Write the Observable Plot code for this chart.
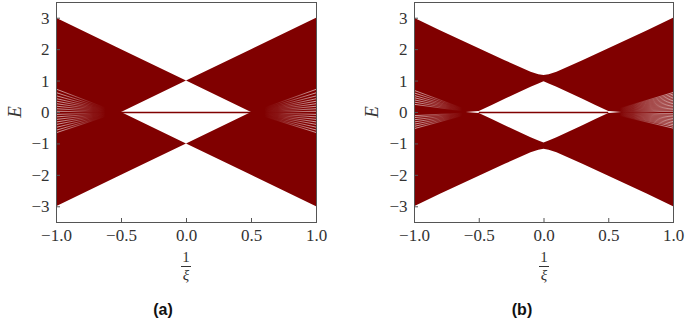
<!DOCTYPE html>
<html><head><meta charset="utf-8">
<script src="https://cdn.jsdelivr.net/npm/d3@7"></script>
<script src="https://cdn.jsdelivr.net/npm/@observablehq/plot@0.6"></script>
<style>
body{margin:0;background:#fff;width:685px;height:322px;position:relative;overflow:hidden}
.panel{position:absolute;top:0}
.panel svg{overflow:visible}
.panel svg text{font-family:"Liberation Serif","DejaVu Serif",serif !important;font-size:17px !important}
.ylab{position:absolute;font-family:"Liberation Serif",serif;font-style:italic;font-size:19px;color:#333;transform:translate(-50%,-50%) rotate(-90deg)}
.frac{position:absolute;font-family:"Liberation Serif",serif;font-size:15px;color:#333;transform:translateX(-50%);text-align:center;line-height:13px}
.frac .bar{width:10px;height:0;border-top:1px solid #333;margin:2px auto 2px auto}
.frac i{font-style:italic}
.cap{position:absolute;font-family:"Liberation Sans",Arial,sans-serif;font-weight:bold;font-size:16px;color:#111;transform:translate(-50%,-50%)}
</style></head>
<body>
<div id="pa" class="panel" style="left:0px"></div>
<div id="pb" class="panel" style="left:345px"></div>
<div class="ylab" style="left:15px;top:112px">E</div>
<div class="ylab" style="left:372px;top:112px">E</div>
<div class="frac" style="left:186px;top:251px">1<div class="bar"></div><i>ξ</i></div>
<div class="frac" style="left:544px;top:251px">1<div class="bar"></div><i>ξ</i></div>
<div class="cap" style="left:163px;top:310px">(a)</div>
<div class="cap" style="left:522px;top:310px">(b)</div>
<script>
// ---------- data ----------
const xTicks = [-1, -0.5, 0, 0.5, 1];
const yTicks = [-3, -2, -1, 0, 1, 2, 3];

// Panel (a): band envelopes
const aX          = [-1, -0.5, 0, 0.5, 1];
const aUpperOuter = [3, 2, 1, 2, 3];
const aUpperInner = [0, 0, 1, 0, 0];
const aLowerInner = [0, 0, -1, 0, 0];
const aLowerOuter = [-3, -2, -1, -2, -3];
const aZeroX      = [-0.5, 0.5];
// Panel (a): white gaps between levels near E = 0 (E at the edge, tip x)
const aLeftGapE   = [0.74, 0.63, 0.53, 0.44, 0.36, 0.28, 0.2, 0.12, 0.04, -0.06, -0.14, -0.22, -0.3, -0.38, -0.47, -0.56, -0.64];
const aLeftTipX   = -0.53;
const aRightGapE  = [0.74, 0.63, 0.53, 0.44, 0.36, 0.28, 0.2, 0.12, 0.04, -0.06, -0.14, -0.22, -0.3, -0.38, -0.47, -0.56, -0.64];
const aRightTipX  = 0.5;

// Panel (b): band envelopes
const bX          = [-1, -0.8, -0.6, -0.5, -0.4, -0.3, -0.2, -0.1, -0.04, 0, 0.04, 0.1, 0.2, 0.3, 0.4, 0.5, 0.6, 0.8, 1];
const bUpperOuter = [3, 2.6, 2.22, 2.03, 1.84, 1.65, 1.46, 1.28, 1.2, 1.18, 1.2, 1.28, 1.46, 1.65, 1.84, 2.03, 2.22, 2.6, 3];
const bUpperInner = [0, 0, 0, 0.03, 0.22, 0.42, 0.61, 0.8, 0.91, 0.98, 0.91, 0.8, 0.61, 0.42, 0.22, 0.03, 0, 0, 0];
const bLowerInner = [0, 0, 0, -0.03, -0.22, -0.42, -0.61, -0.8, -0.91, -0.97, -0.91, -0.8, -0.61, -0.42, -0.22, -0.03, 0, 0, 0];
const bLowerOuter = [-3, -2.6, -2.22, -2.03, -1.84, -1.65, -1.46, -1.28, -1.2, -1.17, -1.2, -1.28, -1.46, -1.65, -1.84, -2.03, -2.22, -2.6, -3];
const bZeroX      = [-0.5, 0.5];
// Panel (b): white gaps near E = 0
const bLeftGapE   = [0.7, 0.62, 0.54, 0.47, 0.4, 0.33, 0.26, -0.1, -0.16, -0.23, -0.3, -0.37, -0.44, -0.51];
const bLeftTipX   = -0.54;
const bRightGapE  = [0.64, 0.59, 0.54, 0.49, 0.44, 0.39, 0.34, 0.29, 0.24, 0.19, 0.14, 0.09, 0.04, -0.04, -0.09, -0.14, -0.19, -0.24, -0.29, -0.34, -0.39, -0.44, -0.5];
const bRightTipX  = 0.48;

// ---------- drawing ----------
const RED = "#800000";
const fmtX = d3.format(".1f");
let gid = 0;

function band(xs, outer, inner) {
  return xs.map((x, i) => ({x, y1: inner[i], y2: outer[i]}));
}
function gaps(edgeEs, tipX, edgeX) {
  return edgeEs.map(e => ({x1: edgeX, y1: e, x2: tipX, y2: 0}));
}

function panel(opts) {
  const id = "p" + (gid++);
  const upper = band(opts.xs, opts.uo, opts.ui);
  const lower = band(opts.xs, opts.lo, opts.li);
  const gl = gaps(opts.lgE, opts.lTip, -1);
  const gr = gaps(opts.rgE, opts.rTip, 1);
  const frameH = 220;
  const innerW = opts.width - opts.ml - opts.mr;
  // gradient defs: white gaps fade out towards the tip
  const defs = (index, scales) => {
    const sx = scales.x;
    const ns = "http://www.w3.org/2000/svg";
    const d = document.createElementNS(ns, "defs");
    const mk = (gidName, x1, x2) => {
      const g = document.createElementNS(ns, "linearGradient");
      g.setAttribute("id", gidName);
      g.setAttribute("gradientUnits", "userSpaceOnUse");
      g.setAttribute("x1", x1); g.setAttribute("x2", x2);
      g.setAttribute("y1", 0); g.setAttribute("y2", 0);
      [[0, 0.8], [0.3, 0.45], [0.6, 0.1], [0.8, 0]].forEach(([o, a]) => {
        const s = document.createElementNS(ns, "stop");
        s.setAttribute("offset", o);
        s.setAttribute("stop-color", "white");
        s.setAttribute("stop-opacity", a);
        g.append(s);
      });
      d.append(g);
    };
    mk(id + "L", sx(-1), sx(opts.lTip));
    mk(id + "R", sx(1), sx(opts.rTip));
    return d;
  };
  return Plot.plot({
    width: opts.width, height: 250,
    marginLeft: opts.ml, marginRight: opts.mr, marginTop: 2, marginBottom: 28,
    style: {fontFamily: "'Liberation Serif', serif", fontSize: "17px", color: "#333", background: "white", overflow: "visible"},
    x: {domain: [-1, 1], label: null},
    y: {domain: [-3.5, 3.5], label: null},
    marks: [
      defs,
      Plot.areaY(upper, {x: "x", y1: "y1", y2: "y2", fill: RED}),
      Plot.areaY(lower, {x: "x", y1: "y1", y2: "y2", fill: RED}),
      Plot.link(gl, {x1: "x1", y1: "y1", x2: "x2", y2: "y2", stroke: `url(#${id}L)`, strokeWidth: 0.8}),
      Plot.link(gr, {x1: "x1", y1: "y1", x2: "x2", y2: "y2", stroke: `url(#${id}R)`, strokeWidth: 0.8}),
      Plot.ruleY([0], {x1: opts.zero[0], x2: opts.zero[1], stroke: RED, strokeWidth: 1.4}),
      Plot.frame({stroke: "#555", strokeWidth: 1}),
      Plot.tickX(xTicks.slice(1, -1), {x: d => d, stroke: "#555", insetTop: frameH - 4}),
      Plot.tickY(yTicks, {y: d => d, stroke: "#555", insetRight: innerW - 4}),
      Plot.axisX(xTicks, {tickSize: 0, tickPadding: 6, tickFormat: fmtX, fill: "#333"}),
      Plot.axisY(yTicks, {tickSize: 0, tickPadding: 7, fill: "#333"})
    ]
  });
}

document.getElementById("pa").append(panel({
  width: 342, ml: 56, mr: 26, xs: aX, uo: aUpperOuter, ui: aUpperInner, lo: aLowerOuter, li: aLowerInner,
  lgE: aLeftGapE, lTip: aLeftTipX, rgE: aRightGapE, rTip: aRightTipX, zero: aZeroX
}));
document.getElementById("pb").append(panel({
  width: 340, ml: 69, mr: 12, xs: bX, uo: bUpperOuter, ui: bUpperInner, lo: bLowerOuter, li: bLowerInner,
  lgE: bLeftGapE, lTip: bLeftTipX, rgE: bRightGapE, rTip: bRightTipX, zero: bZeroX
}));
</script>
</body></html>
